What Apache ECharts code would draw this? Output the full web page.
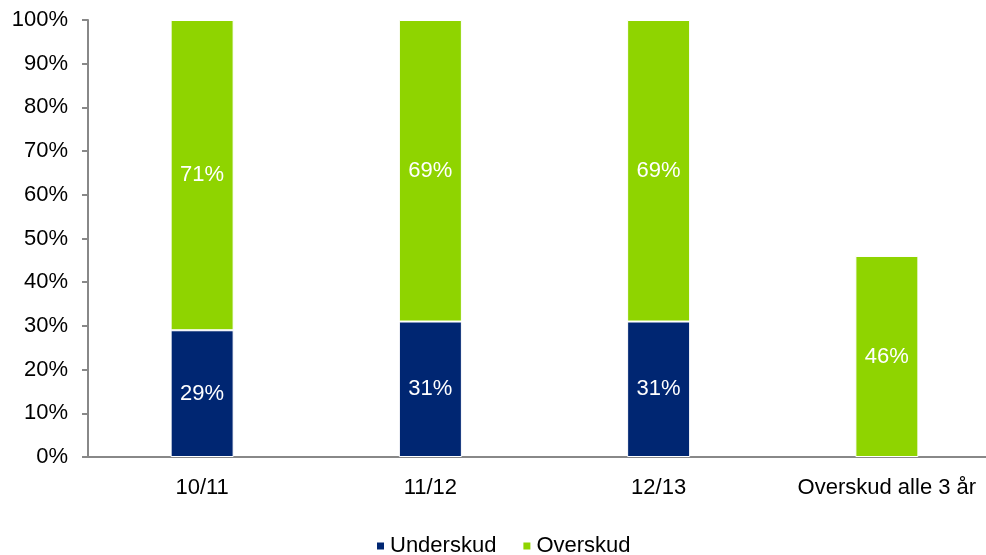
<!DOCTYPE html>
<html>
<head>
<meta charset="utf-8">
<script src="https://cdn.jsdelivr.net/npm/echarts@6/dist/echarts.min.js"></script>
<style>
  html, body { margin: 0; padding: 0; background: #fff; }
  #chart { width: 986px; height: 555px; }
</style>
</head>
<body>
<div id="chart"></div>
<script>
var categories = ["10/11", "11/12", "12/13", "Overskud alle 3 år"];
var underskud = [29, 31, 31, "-"];
var overskud = [71, 69, 69, 46];

var chart = echarts.init(document.getElementById("chart"));
var font = "Liberation Sans, Arial, sans-serif";

chart.setOption({
  animation: false,
  textStyle: { fontFamily: font },
  legend: {
    bottom: -7,
    left: 370,
    itemWidth: 9,
    itemHeight: 9,
    itemGap: 25,
    icon: "rect",
    textStyle: { fontSize: 22, color: "#000", fontFamily: font },
    data: ["Underskud", "Overskud"]
  },
  grid: {
    left: 88,
    top: 20,
    width: 913,
    bottom: 98,
    containLabel: false,
    outerBoundsMode: "none"
  },
  xAxis: {
    type: "category",
    data: categories,
    axisLine: { lineStyle: { color: "#888", width: 2 } },
    axisTick: { length: 6, lineStyle: { color: "#888", width: 2 } },
    axisLabel: { interval: 0, color: "#000", fontSize: 22, margin: 20, fontFamily: font }
  },
  yAxis: {
    type: "value",
    min: 0,
    max: 100,
    interval: 10,
    axisLine: { show: true, lineStyle: { color: "#888", width: 2 } },
    axisTick: { show: true, length: 6, lineStyle: { color: "#888", width: 2 } },
    splitLine: { show: false },
    axisLabel: { color: "#000", fontSize: 22, margin: 20, formatter: "{value}%", fontFamily: font }
  },
  series: [
    {
      name: "Underskud",
      type: "bar",
      stack: "total",
      barWidth: 63,
      data: underskud,
      itemStyle: { color: "#002672", borderColor: "#fff", borderWidth: 1 },
      label: { show: true, color: "#fff", fontSize: 22, formatter: "{c}%", fontFamily: font }
    },
    {
      name: "Overskud",
      type: "bar",
      stack: "total",
      barWidth: 63,
      data: overskud,
      itemStyle: { color: "#8fd400", borderColor: "#fff", borderWidth: 1 },
      label: { show: true, color: "#fff", fontSize: 22, formatter: "{c}%", fontFamily: font }
    }
  ]
});
</script>
</body>
</html>
